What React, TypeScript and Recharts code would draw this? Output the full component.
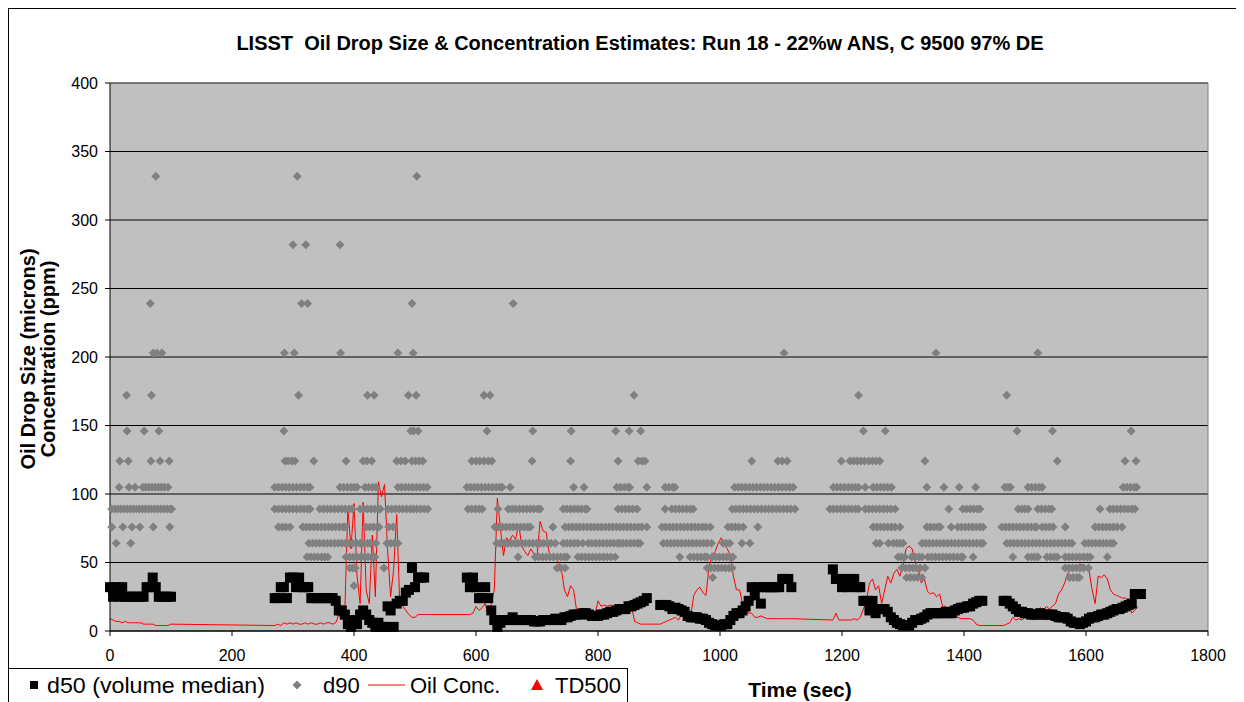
import { ComposedChart, XAxis, YAxis, CartesianGrid, Scatter, Line, ReferenceLine } from "recharts";

// Axis ticks
const xTicks = [0, 200, 400, 600, 800, 1000, 1200, 1400, 1600, 1800];
const yTicks = [0, 50, 100, 150, 200, 250, 300, 350, 400];

// LISST samples every 5 s inside each measurement segment
const SAMPLE_STEP = 5;
const segmentStarts = [0, 270, 585, 902, 1185, 1465];

// d50 (volume median), microns
const d50Seg1 = [32, 25, 32, 25, 32, 25, 25, 25, 25, 25, 25, 25, 32, 32, 39, 32, 25, 25, 25, 25, 25];
const d50Seg2 = [24, 24, 32, 32, 24, 39, 39, 32, 39, 32, 32, 32, 24, 24, 24, 24, 24, 24, 24, 24,
  22, 15, 15, 12, 5, 3, 8, 5, 12, 15, 12, 8, 6, 3, 6, 3, 3, 18, 15, 3, 20, 22, 22, 28, 30, 46, 32, 39, 39, 39];
const d50Seg3 = [39, 32, 39, 32, 24, 24, 32, 24, 15, 8, 3, 6, 8, 8, 8, 10, 8, 8, 8, 8,
  8, 8, 7, 7, 7, 8, 8, 8, 8, 9, 8, 8, 10, 10, 11, 12, 12, 12, 13, 13,
  12, 11, 11, 11, 12, 12, 13, 14, 14, 15, 16, 16, 16, 18, 18, 19, 20, 21, 22, 24];
const d50Seg4 = [19, 19, 19, 18, 16, 17, 16, 15, 14, 11, 10, 10, 10, 9, 9, 8, 6, 5, 4, 4,
  4, 5, 5, 8, 11, 13, 13, 15, 18, 22, 32, 26, 32, 20, 32, 32, 32, 32, 32, 32, 38, 38, 38, 32];
const d50Seg5 = [45, 38, 38, 32, 38, 32, 38, 38, 32, 32, 22, 22, 15, 22, 13, 16, 16, 16, 14, 10,
  8, 6, 5, 4, 4, 4, 6, 8, 8, 9, 10, 12, 13, 13, 13, 13, 13, 14, 13, 13,
  15, 16, 17, 17, 18, 18, 20, 21, 22, 22];
const d50Seg6 = [22, 22, 20, 18, 16, 14, 14, 13, 13, 12, 12, 12, 13, 12, 12, 12, 12, 11, 10, 10,
  10, 9, 7, 6, 6, 5, 6, 7, 9, 10, 10, 11, 12, 12, 13, 14, 15, 16, 16, 17, 18, 19, 20, 27, 27, 27];

// Oil concentration, ppm
const oilSeg1 = [9, 8, 7, 7, 6, 7, 6, 6, 6, 6, 6, 5, 5, 5, 5, 4, 4, 4, 4, 4, 5];
const oilSeg2 = [4, 5, 4, 6, 5, 6, 5, 6, 5, 5, 6, 5, 6, 5, 5, 6, 5, 6, 6, 5,
  6, 12, 8, 15, 90, 60, 93, 40, 20, 94, 30, 20, 70, 25, 109, 98, 107, 60, 25, 45,
  85, 20, 18, 15, 12, 10, 10, 12, 12, 12];
const oilSeg3 = [12, 12, 13, 18, 15, 17, 20, 12, 20, 30, 97, 75, 55, 68, 66, 70, 67, 78, 62, 58,
  55, 60, 56, 54, 80, 73, 72, 57, 52, 54, 50, 45, 30, 25, 33, 30, 15, 10, 12, 10,
  9, 10, 12, 22, 18, 19, 18, 19, 18, 19, 19, 18, 19, 19, 18, 7, 6, 5, 5, 5];
const oilSeg4 = [5, 6, 7, 8, 9, 10, 8, 12, 10, 13, 11, 26, 30, 32, 28, 26, 47, 55, 58, 64,
  68, 63, 60, 55, 40, 30, 30, 20, 20, 13, 13, 10, 10, 11, 10, 9, 9, 9, 9, 9, 9, 9, 9, 9];
const oilSeg5 = [8, 13, 8, 8, 8, 8, 8, 9, 8, 10, 16, 22, 35, 38, 30, 33, 20, 30, 40, 35,
  42, 45, 40, 48, 60, 62, 60, 50, 45, 35, 38, 29, 27, 28, 25, 27, 18, 18, 16, 14,
  12, 10, 9, 9, 9, 9, 8, 5, 4, 4];
const oilSeg6 = [4, 5, 6, 10, 8, 9, 8, 10, 13, 12, 14, 15, 17, 15, 18, 16, 18, 20, 27, 30,
  35, 42, 46, 48, 47, 49, 48, 45, 44, 30, 20, 40, 39, 41, 38, 30, 27, 26, 25, 24,
  24, 22, 13, 15, 18];

// d90 size classes (microns) and the times (sec) at which each class was recorded
const d90Classes = [332, 282, 239, 203, 172, 146, 124, 105, 89, 76, 64, 54, 46, 39, 33];
const d90At332 = [75, 307, 503];
const d90At282 = [300, 321, 377];
const d90At239 = [66, 314, 324, 495, 661];
const d90At203 = [71, 77, 85, 286, 302, 378, 472, 497, 1105, 1354, 1521];
const d90At172 = [27, 68, 309, 422, 433, 489, 502, 613, 623, 859, 1227, 1470];
const d90At146 = [28, 56, 80, 285, 493, 498, 505, 618, 693, 756, 829, 851, 870, 1235, 1271, 1487, 1545, 1674];
const d90At124 = [16, 30, 67, 82, 97, 287, 292, 298, 303, 334, 387, 415, 421, 429, 470, 477, 484, 495, 501, 507,
  513, 593, 600, 606, 613, 620, 626, 692, 755, 833, 866, 872, 877, 1052, 1095, 1102, 1110, 1199, 1213, 1219,
  1225, 1231, 1237, 1244, 1250, 1256, 1262, 1336, 1553, 1664, 1682];
const d90At105 = [15, 31, 41, 54, 59, 64, 69, 74, 79, 84, 89, 95, 270, 276, 282, 288, 294, 300, 306, 312,
  318, 324, 328, 377, 383, 389, 395, 400, 405, 418, 424, 430, 436, 472, 478, 484, 490, 496, 502, 508,
  514, 520, 585, 591, 597, 603, 609, 615, 621, 627, 633, 639, 643, 656, 760, 777, 831, 837, 843, 849,
  852, 880, 910, 916, 922, 926, 1024, 1030, 1036, 1042, 1048, 1054, 1060, 1066, 1072, 1078, 1084, 1090, 1096, 1102,
  1108, 1114, 1120, 1186, 1192, 1198, 1204, 1210, 1216, 1222, 1227, 1238, 1251, 1257, 1263, 1269, 1275, 1281, 1339, 1367,
  1392, 1419, 1467, 1472, 1476, 1505, 1511, 1517, 1523, 1528, 1661, 1667, 1673, 1679, 1683];
const d90At89 = [3, 8, 13, 18, 23, 28, 33, 38, 43, 48, 53, 58, 63, 68, 73, 78, 83, 88, 93, 98, 101,
  270, 276, 282, 288, 294, 300, 306, 312, 318, 324, 328, 344, 350, 356, 362, 368, 374, 380, 386, 392, 397,
  410, 416, 422, 428, 434, 440, 443, 456, 462, 468, 474, 480, 486, 492, 497, 503, 509, 515, 521,
  587, 593, 599, 605, 610, 636, 653, 659, 665, 671, 677, 683, 689, 695, 701, 705,
  743, 749, 755, 761, 767, 773, 779, 782, 833, 839, 845, 851, 857, 864,
  910, 921, 927, 933, 939, 945, 951, 956,
  1020, 1026, 1032, 1038, 1044, 1050, 1056, 1062, 1068, 1074, 1080, 1086, 1092, 1098, 1104, 1110, 1116, 1123,
  1180, 1186, 1192, 1198, 1204, 1210, 1216, 1222, 1227, 1238, 1244, 1250, 1256, 1262, 1268, 1274, 1280, 1287,
  1375, 1398, 1404, 1410, 1416, 1422, 1426, 1489, 1495, 1500, 1505, 1521, 1527, 1533, 1539, 1544,
  1623, 1639, 1645, 1651, 1657, 1663, 1669, 1675, 1680];
const d90At76 = [3, 21, 36, 49, 71, 98, 276, 282, 288, 295, 316, 322, 328, 334, 340, 346, 352, 358, 364, 370,
  376, 382, 385, 420, 426, 432, 438, 441, 457, 464, 631, 637, 643, 649, 655, 661, 667, 673, 679, 685,
  689, 726, 746, 752, 758, 764, 770, 776, 782, 788, 794, 800, 806, 812, 818, 824, 830, 836, 842, 848,
  854, 860, 866, 872, 880, 905, 911, 917, 923, 929, 935, 941, 947, 953, 959, 965, 971, 977, 984,
  1013, 1019, 1025, 1031, 1038, 1062, 1251, 1257, 1263, 1269, 1275, 1281, 1287, 1295,
  1339, 1345, 1351, 1357, 1361, 1379, 1390, 1396, 1402, 1408, 1414, 1420, 1426, 1431,
  1462, 1468, 1474, 1480, 1486, 1492, 1498, 1504, 1510, 1516, 1519, 1528, 1534, 1540, 1546, 1566,
  1615, 1621, 1627, 1633, 1639, 1645, 1651, 1659];
const d90At64 = [10, 34, 326, 332, 338, 344, 350, 356, 362, 368, 374, 380, 386, 392, 398, 404, 410, 416, 422, 426,
  436, 454, 460, 466, 472, 634, 640, 646, 652, 658, 664, 669, 675, 681, 687, 693, 699, 705, 711, 717,
  723, 730, 743, 749, 755, 761, 767, 775, 784, 790, 796, 802, 808, 814, 820, 826, 832, 836, 841, 847,
  853, 859, 865, 869, 907, 913, 919, 925, 931, 937, 943, 949, 955, 961, 967, 973, 979, 986,
  1005, 1010, 1016, 1036, 1049, 1256, 1262, 1276, 1284, 1290, 1295, 1300,
  1331, 1337, 1343, 1349, 1355, 1361, 1367, 1373, 1379, 1385, 1391, 1397, 1403, 1409, 1415, 1421, 1427, 1431,
  1470, 1476, 1482, 1488, 1494, 1500, 1506, 1512, 1518, 1524, 1530, 1536, 1542, 1548, 1554, 1560, 1566, 1572, 1577,
  1598, 1604, 1610, 1616, 1622, 1628, 1634, 1640, 1645];
const d90At54 = [323, 329, 335, 341, 347, 352, 357, 387, 393, 399, 405, 411, 417, 423, 429, 434,
  669, 697, 703, 709, 715, 721, 727, 733, 739, 745, 749, 767, 773, 779, 785, 791, 797, 803, 809, 815, 821, 828,
  934, 951, 957, 963, 969, 975, 979, 987, 993, 999, 1005, 1011, 1016, 1021,
  1292, 1297, 1303, 1314, 1320, 1326, 1331, 1341, 1347, 1353, 1359, 1365, 1371, 1377, 1383, 1389, 1395, 1398,
  1415, 1480, 1505, 1511, 1516, 1521, 1536, 1542, 1548, 1553, 1566, 1572, 1578, 1584, 1590, 1596, 1602, 1607, 1635];
const d90At46 = [393, 398, 402, 449, 733, 739, 746, 979, 985, 991, 997, 1003, 1009, 1015, 1020,
  1298, 1304, 1310, 1316, 1322, 1328, 1336, 1566, 1572, 1578, 1584, 1590, 1596, 1604];
const d90At39 = [988, 1306, 1312, 1318, 1324, 1331, 1573, 1579, 1585, 1589];
const d90At33 = [400];

const d90Times = [d90At332, d90At282, d90At239, d90At203, d90At172, d90At146, d90At124, d90At105,
  d90At89, d90At76, d90At64, d90At54, d90At46, d90At39, d90At33];

const toPoints = (segs: number[][]) =>
  segs.flatMap((vals, s) => vals.map((v, i) => ({ t: segmentStarts[s] + i * SAMPLE_STEP, v })));

const d50Data = toPoints([d50Seg1, d50Seg2, d50Seg3, d50Seg4, d50Seg5, d50Seg6]);
const oilData = toPoints([oilSeg1, oilSeg2, oilSeg3, oilSeg4, oilSeg5, oilSeg6]);
const d90Data = d90Classes.flatMap((size, i) => d90Times[i].map((t) => ({ t, v: size })));

const FONT = "'Liberation Sans', Arial, sans-serif";

const Square = (p: any) => (
  <rect x={p.cx - 5} y={p.cy - 5} width={10} height={10} fill="#000000" />
);

const Diamond = (p: any) => {
  const r = 4.5;
  return (
    <polygon
      points={`${p.cx},${p.cy - r} ${p.cx + r},${p.cy} ${p.cx},${p.cy + r} ${p.cx - r},${p.cy}`}
      fill="#808080"
    />
  );
};

function LegendBox() {
  return (
    <div
      style={{
        position: "absolute",
        left: -1,
        top: 659,
        width: 620,
        height: 50,
        border: "1px solid #000",
        background: "#fff",
        boxSizing: "border-box",
      }}
    >
      <svg width={618} height={48} style={{ display: "block", fontFamily: FONT, fontSize: 22 }}>
        <rect x={21} y={12} width={8} height={8} fill="#000" />
        <text x={38} y={24} textLength={218} lengthAdjust="spacingAndGlyphs">d50 (volume median)</text>
        <polygon points="288,11.5 292.5,16 288,20.5 283.5,16" fill="#808080" />
        <text x={314} y={24}>d90</text>
        <line x1={359} y1={16} x2={396} y2={16} stroke="#ff0000" strokeWidth={1} />
        <text x={401} y={24}>Oil Conc.</text>
        <polygon points="528,10 534,21 522,21" fill="#ff0000" />
        <text x={546} y={24}>TD500</text>
      </svg>
    </div>
  );
}

export default function App() {
  return (
    <div
      style={{
        position: "relative",
        width: 1260,
        height: 700,
        border: "1px solid #000",
        boxSizing: "border-box",
        background: "#fff",
        fontFamily: FONT,
        overflow: "hidden",
      }}
    >
      <div style={{ position: "absolute", left: 0, top: 0 }}>
        <ComposedChart
          width={1240}
          height={690}
          margin={{ top: 74, right: 41, bottom: 38, left: 0 }}
          style={{ fontFamily: FONT }}
        >
          <CartesianGrid fill="#C0C0C0" stroke="#000" vertical={false} />
          <XAxis
            type="number"
            dataKey="t"
            domain={[0, 1800]}
            ticks={xTicks}
            interval={0}
            height={30}
            tickSize={5}
            tickMargin={14}
            axisLine={{ stroke: "#000" }}
            tickLine={{ stroke: "#000" }}
            tick={{ fill: "#000", fontSize: 16 }}
          />
          <YAxis
            type="number"
            dataKey="v"
            domain={[0, 400]}
            ticks={yTicks}
            interval={0}
            width={101}
            tickSize={5}
            tickMargin={7}
            axisLine={{ stroke: "#000" }}
            tickLine={{ stroke: "#000" }}
            tick={{ fill: "#000", fontSize: 16 }}
          />
          <ReferenceLine y={400} stroke="#808080" />
          <ReferenceLine x={1800} stroke="#808080" />
          <Scatter name="d90" data={d90Data} dataKey="v" shape={Diamond} isAnimationActive={false} />
          <Scatter name="d50 (volume median)" data={d50Data} dataKey="v" shape={Square} isAnimationActive={false} />
          <Line
            name="Oil Conc."
            data={oilData}
            dataKey="v"
            type="linear"
            stroke="#ff0000"
            strokeWidth={1}
            dot={false}
            activeDot={false}
            isAnimationActive={false}
          />
        </ComposedChart>
      </div>
      <svg
        width={1258}
        height={698}
        style={{ position: "absolute", left: 0, top: 0, pointerEvents: "none", fontFamily: FONT }}
      >
        <text x={631} y={41} textAnchor="middle" fontWeight="bold" fontSize={20} style={{ whiteSpace: "pre" }}>
          {"LISST  Oil Drop Size & Concentration Estimates: Run 18 - 22%w ANS, C 9500 97% DE"}
        </text>
        <text transform="translate(26,350) rotate(-90)" textAnchor="middle" fontWeight="bold" fontSize={20}>
          Oil Drop Size (microns)
        </text>
        <text transform="translate(46,350) rotate(-90)" textAnchor="middle" fontWeight="bold" fontSize={20}>
          Concentration (ppm)
        </text>
        <text x={791} y={688} textAnchor="middle" fontWeight="bold" fontSize={21}>
          Time (sec)
        </text>
      </svg>
      <LegendBox />
    </div>
  );
}
